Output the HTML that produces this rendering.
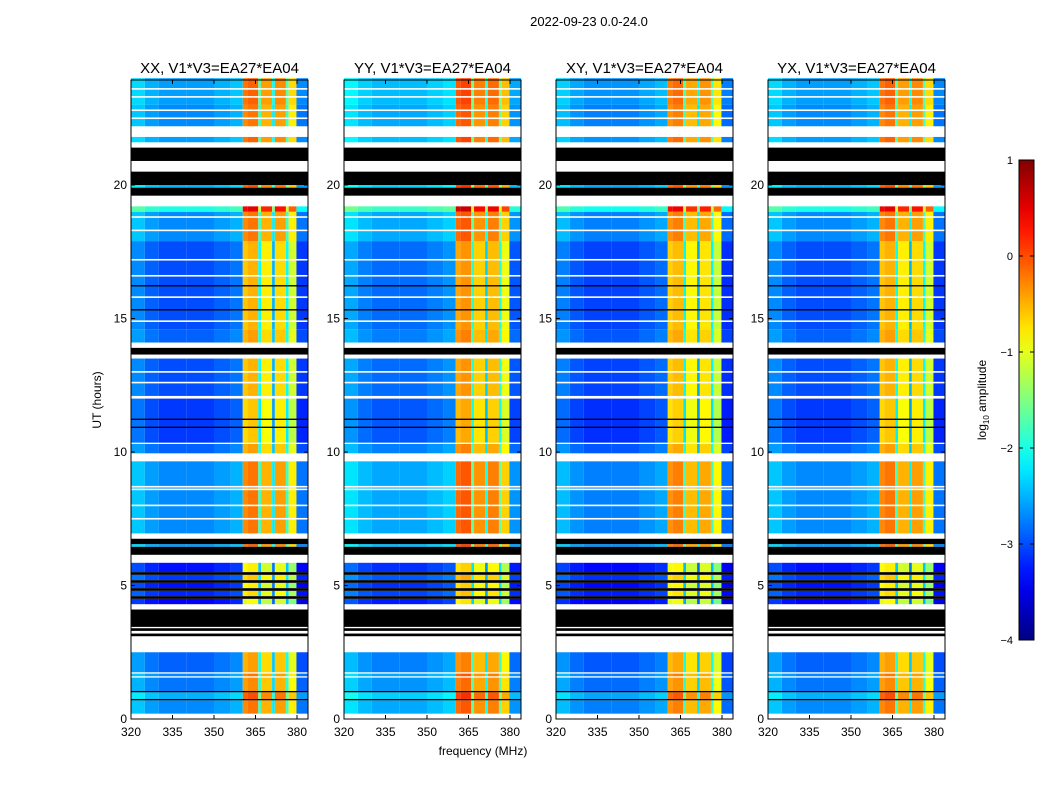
<!DOCTYPE html>
<html><head><meta charset="utf-8">
<style>
body{margin:0;background:#fff;}
svg{display:block;font-family:"Liberation Sans",sans-serif;}
</style></head>
<body>
<svg id="fig" width="1050" height="800" viewBox="0 0 1050 800">
<text x="589" y="26" font-size="13" text-anchor="middle">2022-09-23 0.0-24.0</text>
<text x="483" y="755" font-size="12" text-anchor="middle">frequency (MHz)</text>
<text transform="translate(101,400) rotate(-90)" font-size="12" text-anchor="middle">UT (hours)</text>
<g id="panels"></g>
<g id="cbar"></g>
<text transform="translate(986,400) rotate(-90)" font-size="12" text-anchor="middle">log<tspan font-size="8" dy="3">10</tspan><tspan dy="-3"> amplitude</tspan></text>
</svg>
<script>
// ---- data ----
const panelTitles = ["XX, V1*V3=EA27*EA04","YY, V1*V3=EA27*EA04","XY, V1*V3=EA27*EA04","YX, V1*V3=EA27*EA04"];
const panelOffsets = [0, 0.15, -0.05, 0];
const freqEdges = [320,325,330,340,350,356,360.4,362,366,367,371,372,376,377,379.8,384];
const freqValues = [-2.5,-2.7,-2.8,-2.8,-2.7,-2.6,-0.4,-0.3,-1.9,-0.6,-2.3,-0.5,-1.9,-0.9,-2.9];
const bandStart = [0.2,0.75,1.05,1.6,1.75,4.3,4.6,4.9,5.2,5.5,6.45,6.95,9.95,10.35,12.1,14.1,14.6,17.9,19.0,19.9,21.6,22.2,23.0];
const bandEnd   = [0.7,1.0,1.55,1.7,2.5,4.5,4.8,5.1,5.4,5.85,6.55,9.65,10.3,12.0,13.5,14.6,17.9,19.0,19.2,20.0,21.8,23.0,24.0];
const bandOffset= [0.1,0.3,0.0,0.1,-0.1,-0.6,-0.4,-0.5,-0.3,-0.5,0.2,0.1,-0.1,-0.3,-0.2,-0.1,-0.2,0.1,0.8,0.3,0.2,0.1,0.2];
const blackStart = [0.7,1.0,3.1,3.3,3.45,4.5,4.8,5.1,5.4,6.15,6.55,10.9,11.2,13.65,15.3,16.2,19.6,20.0,20.9];
const blackEnd   = [0.75,1.05,3.2,3.4,4.1,4.6,4.9,5.2,5.5,6.45,6.75,10.95,11.25,13.9,15.35,16.25,19.9,20.5,21.4];
const whiteLines = [7.5,8.0,8.6,8.7,12.6,13.0,14.9,15.8,16.6,17.2,18.3,18.8,22.5,22.8,23.3,23.6];
const yTicks = [0,5,10,15,20];
const xTicks = [320,335,350,365,380];
const cbarTicks = [1,0,-1,-2,-3,-4];

// ---- helpers ----
const NS="http://www.w3.org/2000/svg";
function mk(tag,attrs,parent){const e=document.createElementNS(NS,tag);for(const k in attrs)e.setAttribute(k,attrs[k]);parent.appendChild(e);return e;}
function jet(t){t=Math.max(0,Math.min(1,t));
 const r=Math.max(0,Math.min(1,1.5-Math.abs(4*t-3)));
 const g=Math.max(0,Math.min(1,1.5-Math.abs(4*t-2)));
 const b=Math.max(0,Math.min(1,1.5-Math.abs(4*t-1)));
 return `rgb(${Math.round(r*255)},${Math.round(g*255)},${Math.round(b*255)})`;}
const vmin=-4,vmax=1;
const panelX=[131,344,556,768], pw=177, pTop=80, pBot=719;
function yScale(h){return 719-h*(719-185)/20;}
const panelsG=document.getElementById('panels');
panelTitles.forEach((title,p)=>{
  const x0=panelX[p];
  const xScale=f=>x0+(f-320)*(297-131)/60;
  const g=mk('g',{},panelsG);
  
  
  bandStart.forEach((s,i)=>{
    for(let j=0;j<freqValues.length;j++){
      const xa=xScale(freqEdges[j]), xb=Math.min(xScale(freqEdges[j+1]),x0+pw);
      const ya=yScale(bandEnd[i]), yb=yScale(s);
      const r=mk('rect',{x:xa,y:ya,width:xb-xa,height:yb-ya,fill:jet((freqValues[j]+bandOffset[i]+panelOffsets[p]-vmin)/(vmax-vmin))},g);
      
      
    }
  });
  blackStart.forEach((s,i)=>{
    const r=mk('rect',{x:x0,y:yScale(blackEnd[i]),width:pw,height:yScale(s)-yScale(blackEnd[i]),fill:'#000'},g);
    
    
  });
  whiteLines.forEach(h=>{
    const r=mk('rect',{x:x0,y:yScale(h)-0.8,width:pw,height:1.6,fill:'#fff'},g);
    
    
  });
  const fr=mk('rect',{x:x0,y:pTop,width:pw,height:pBot-pTop,fill:'none',stroke:'#000','stroke-width':1},g);
  
  
  const t=mk('text',{x:x0+pw/2,y:73,'font-size':15,'text-anchor':'middle'},g);
  t.textContent=title;
  
  
  xTicks.forEach(v=>{
    const x=xScale(v);
    mk('line',{x1:x,x2:x,y1:pBot,y2:pBot-4,stroke:'#000'},g);
    mk('line',{x1:x,x2:x,y1:pTop,y2:pTop+4,stroke:'#000'},g);
    const l=mk('text',{x:x,y:pBot+17,'font-size':12,'text-anchor':'middle'},g);
    l.textContent=v;
    
    
  });
  yTicks.forEach(v=>{
    const y=yScale(v);
    mk('line',{x1:x0,x2:x0+4,y1:y,y2:y,stroke:'#000'},g);
    mk('line',{x1:x0+pw,x2:x0+pw-4,y1:y,y2:y,stroke:'#000'},g);
    const l=mk('text',{x:x0-4,y:y+4,'font-size':12,'text-anchor':'end'},g);
    l.textContent=v;
    
    
  });
});
const cb=document.getElementById('cbar');


const cbTop=160,cbBot=640,cbX=1019,cbW=15;
const defs=mk('defs',{},cb);
const grad=mk('linearGradient',{id:'jetg',x1:0,y1:1,x2:0,y2:0},defs);
for(let i=0;i<=20;i++){mk('stop',{offset:i/20,'stop-color':jet(i/20)},grad);}
mk('rect',{x:cbX,y:cbTop,width:cbW,height:cbBot-cbTop,fill:'url(#jetg)',stroke:'#000'},cb);
cbarTicks.forEach(v=>{
  const y=cbBot-(v-vmin)/(vmax-vmin)*(cbBot-cbTop);
  mk('line',{x1:cbX,x2:cbX+4,y1:y,y2:y,stroke:'#000'},cb);
  mk('line',{x1:cbX+cbW,x2:cbX+cbW-4,y1:y,y2:y,stroke:'#000'},cb);
  const l=mk('text',{x:1013,y:y+4,'font-size':11,'text-anchor':'end'},cb);
  l.textContent=v<0?'\u2212'+(-v):String(v);
  
  
});
</script>
</body></html>
